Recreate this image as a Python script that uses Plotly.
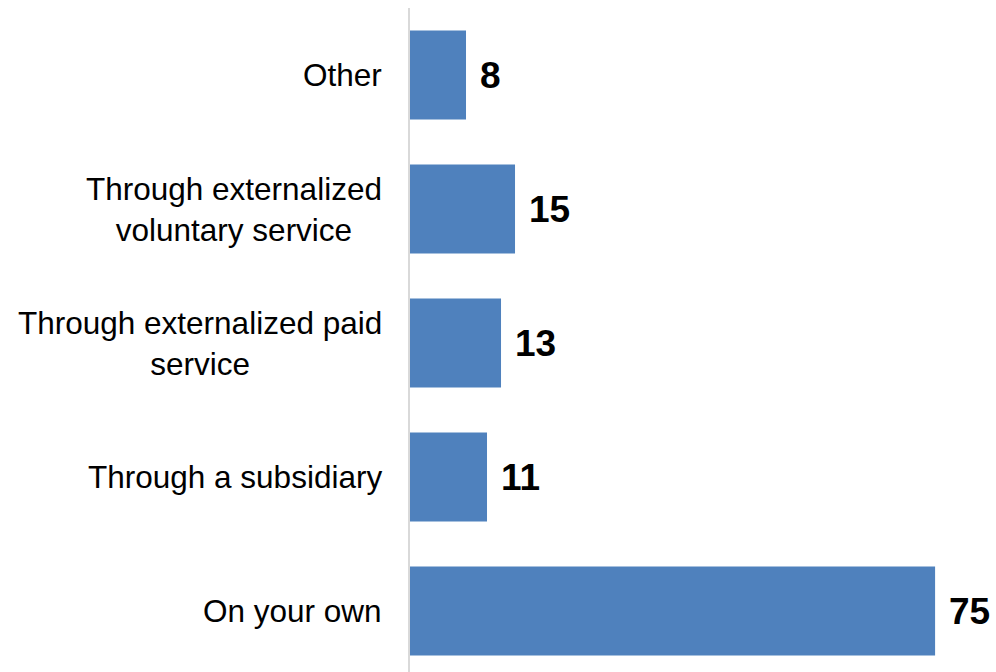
import plotly.graph_objects as go

# Categories listed bottom to top
categories = [
    "On your own",
    "Through a subsidiary",
    "Through externalized paid<br>service",
    "Through externalized<br>voluntary service",
    "Other",
]
values = [75, 11, 13, 15, 8]

BAR_COLOR = "#4f81bd"
FONT = "Liberation Sans, Arial, sans-serif"

fig = go.Figure(
    go.Bar(
        x=values,
        y=categories,
        orientation="h",
        marker=dict(color=BAR_COLOR, line=dict(width=0)),
        width=0.664,
        hoverinfo="skip",
    )
)

for cat, val in zip(categories, values):
    # Value label just past the bar end
    fig.add_annotation(
        x=val,
        y=cat,
        text=f"<b>{val}</b>",
        showarrow=False,
        xanchor="left",
        yanchor="middle",
        xshift=12,
        font=dict(family=FONT, size=37, color="#000000"),
    )
    # Category label, lines centred on each other, block right-aligned
    fig.add_annotation(
        x=0,
        xref="paper",
        y=cat,
        text=cat,
        showarrow=False,
        xanchor="right",
        yanchor="middle",
        align="center",
        xshift=-26,
        font=dict(family=FONT, size=31.5, color="#000000"),
    )

fig.update_layout(
    width=996,
    height=672,
    margin=dict(l=410, r=0, t=8, b=0),
    paper_bgcolor="white",
    plot_bgcolor="white",
    showlegend=False,
    font=dict(family=FONT, color="#000000"),
    xaxis=dict(
        range=[0, 83.7],
        visible=False,
        showgrid=False,
        zeroline=False,
    ),
    yaxis=dict(
        type="category",
        categoryorder="array",
        categoryarray=categories,
        range=[-0.455, 4.5],
        showgrid=False,
        zeroline=False,
        showline=True,
        linecolor="#d9d9d9",
        linewidth=2,
        ticks="",
        showticklabels=False,
    ),
)

fig.write_html("out.html")
